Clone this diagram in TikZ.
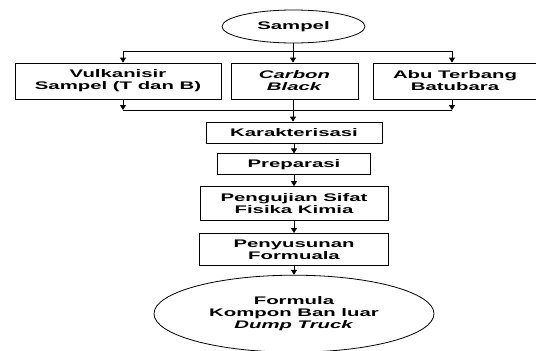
\documentclass[tikz,border=0pt]{standalone}
\usepackage{fontspec}
\setmainfont{Liberation Sans}[FakeStretch=1.85]
\usetikzlibrary{shapes.geometric, arrows.meta, positioning}
\tikzstyle{block} = [rectangle, draw, line width=0.8pt, text centered, align=center, inner sep=0pt, fill=white, font=\fontsize{11}{12}\selectfont\bfseries]
\tikzstyle{oval}  = [ellipse, draw, line width=0.8pt, align=center, inner sep=0pt, font=\fontsize{11}{12}\selectfont\bfseries]
\tikzstyle{flow}  = [line width=0.8pt, -{Triangle[length=5pt, width=6pt]}]
\tikzstyle{link}  = [line width=0.8pt]

\begin{document}
\begin{tikzpicture}[x=1pt, y=1pt]
	\useasboundingbox (0,0) rectangle (536,-351);

	% Start
	\node (sampel) [oval, minimum width=143pt, minimum height=33pt] at (293.5,-26.5) {Sampel};

	% Materials
	\node (vulkanisir) [block, minimum width=206pt, minimum height=36pt] at (118,-81) {Vulkanisir\\Sampel (T dan B)};
	\node (carbon) [block, minimum width=127pt, minimum height=36pt] at (294.5,-81) {\textit{Carbon}\\\textit{Black}};
	\node (abu) [block, minimum width=164pt, minimum height=36pt] at (455,-81) {Abu Terbang\\Batubara};

	% Process
	\node (karakterisasi) [block, minimum width=176pt, minimum height=21pt] at (294,-132.5) {Karakterisasi};
	\node (preparasi) [block, minimum width=153pt, minimum height=21pt, below=10pt of karakterisasi] {Preparasi};
	\node (pengujian) [block, minimum width=188pt, minimum height=34pt, below=11pt of preparasi] {Pengujian Sifat\\Fisika Kimia};
	\node (penyusunan) [block, minimum width=189pt, minimum height=32pt, below=12pt of pengujian] {Penyusunan\\Formuala};

	% Result
	\node (formula) [oval, minimum width=280pt, minimum height=77pt, below=9pt of penyusunan] {Formula\\Kompon Ban luar\\\textit{Dump Truck}};

	% Branch points
	\coordinate (split) at (293,-51);
	\coordinate (splitL) at (123,-51);
	\coordinate (splitR) at (452,-51);
	\coordinate (join) at (293,-110);
	\coordinate (joinL) at (123,-110);
	\coordinate (joinR) at (452,-110);

	% Arrows
	\draw[link] (sampel.south -| split) -- (split);
	\draw[link] (splitL) -- (splitR);
	\draw[flow] (splitL) -- (splitL |- vulkanisir.north);
	\draw[flow] (split) -- (split |- carbon.north);
	\draw[flow] (splitR) -- (splitR |- abu.north);

	\draw[flow] (vulkanisir.south -| joinL) -- (joinL);
	\draw[flow] (abu.south -| joinR) -- (joinR);
	\draw[link] (joinL) -- (joinR);
	\draw[flow] (carbon.south -| join) -- (join |- karakterisasi.north);

	\draw[flow] (karakterisasi) -- (preparasi);
	\draw[flow] (preparasi) -- (pengujian);
	\draw[flow] (pengujian) -- (penyusunan);
	\draw[flow] (penyusunan) -- (formula);

\end{tikzpicture}
\end{document}
